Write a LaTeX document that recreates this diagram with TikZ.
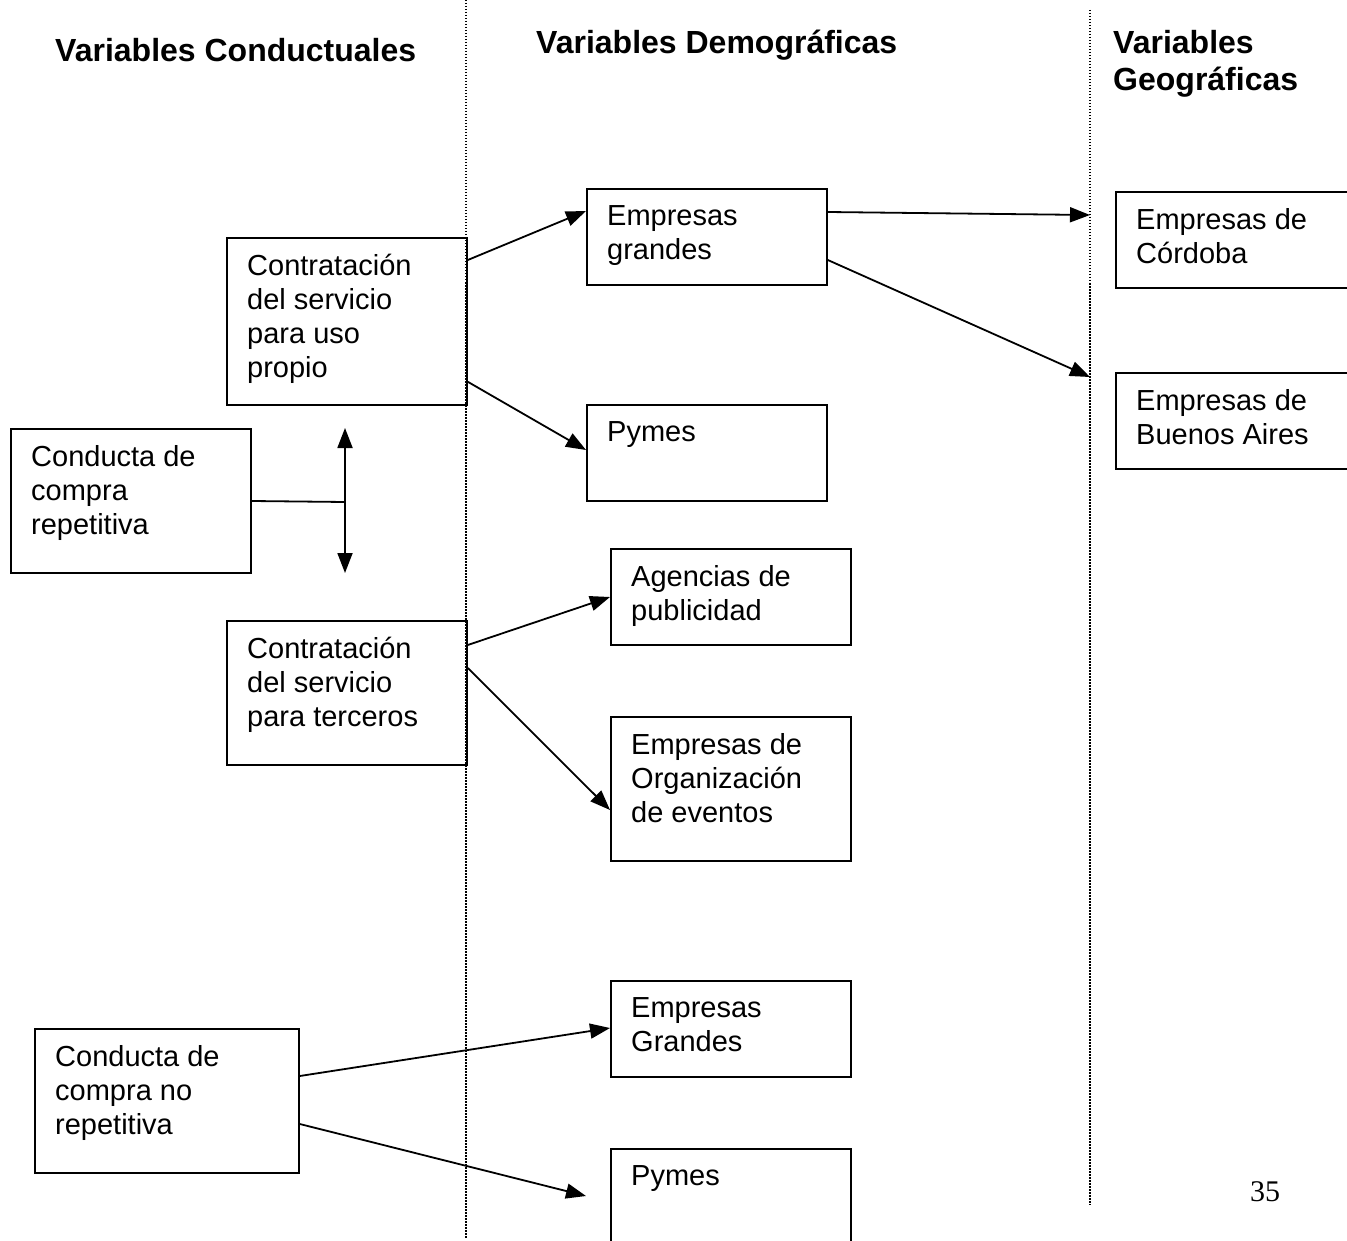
\documentclass[tikz,border=0pt]{standalone}
\usepackage{fontspec}
\setmainfont{Liberation Sans}
\newfontfamily\numfont{Liberation Serif}
\usetikzlibrary{arrows.meta}
\begin{document}
\begin{tikzpicture}[x=1pt,y=-1pt,
  box/.style={draw, line width=1.8pt, rectangle, anchor=north west, inner sep=0pt},
  txt/.style={anchor=north west, inner sep=0pt, align=left, font=\fontsize{29}{34}\selectfont},
  hdr/.style={anchor=north west, inner sep=0pt, align=left, font=\fontsize{32}{37}\selectfont\bfseries},
  arr/.style={line width=1.8pt, -{Triangle[length=20pt,width=15pt]}},
  darr/.style={line width=1.8pt, {Triangle[length=20pt,width=15pt]}-{Triangle[length=20pt,width=15pt]}},
  plain/.style={line width=1.8pt},
  sep/.style={line width=1.5pt, dash pattern=on 1.5pt off 1.5pt}]
\useasboundingbox[fill=white] (0,0) rectangle (1347,1241);

% separators
\coordinate (s1a) at (466,0);
\coordinate (s1b) at (466,1238);
\coordinate (s2a) at (1090,10);
\coordinate (s2b) at (1090,1205);
\draw[sep] (s1a) -- (s1b);
\draw[sep] (s2a) -- (s2b);

% headers
\node[hdr] (h1) at (55,38) {Variables Conductuales};
\node[hdr] (h2) at (536,30) {Variables Demográficas};
\node[hdr] (h3) at (1113,30) {Variables\\Geográficas};

% boxes
\node[box, minimum width=240pt, minimum height=167pt] (cup) at (226,237) {};
\node[box, minimum width=240pt, minimum height=144pt] (crr) at (10,428) {};
\node[box, minimum width=240pt, minimum height=144pt] (cter) at (226,620) {};
\node[box, minimum width=240pt, minimum height=96pt] (eg) at (586,188) {};
\node[box, minimum width=240pt, minimum height=96pt] (py1) at (586,404) {};
\node[box, minimum width=240pt, minimum height=96pt] (ag) at (610,548) {};
\node[box, minimum width=240pt, minimum height=144pt] (eo) at (610,716) {};
\node[box, minimum width=240pt, minimum height=96pt] (eg2) at (610,980) {};
\node[box, minimum width=240pt, minimum height=144pt] (py2) at (610,1148) {};
\node[box, minimum width=264pt, minimum height=144pt] (cnr) at (34,1028) {};
\node[box, minimum width=260pt, minimum height=96pt] (cor) at (1115,191) {};
\node[box, minimum width=260pt, minimum height=96pt] (ba) at (1115,372) {};

% texts
\node[txt] (tcup) at (247,254) {Contratación\\del servicio\\para uso\\propio};
\node[txt] (tcrr) at (31,445) {Conducta de\\compra\\repetitiva};
\node[txt] (tcter) at (247,637) {Contratación\\del servicio\\para terceros};
\node[txt] (teg) at (607,205) {Empresas\\grandes};
\node[txt] (tpy1) at (607,421) {Pymes};
\node[txt] (tag) at (631,565) {Agencias de\\publicidad};
\node[txt] (teo) at (631,733) {Empresas de\\Organización\\de eventos};
\node[txt] (teg2) at (631,997) {Empresas\\Grandes};
\node[txt] (tpy2) at (631,1165) {Pymes};
\node[txt] (tcnr) at (55,1045) {Conducta de\\compra no\\repetitiva};
\node[txt] (tcor) at (1136,208) {Empresas de\\Córdoba};
\node[txt] (tba) at (1136,389) {Empresas de\\Buenos Aires};

% page number
\node[anchor=base west, inner sep=0pt, font=\numfont\fontsize{30}{34}\selectfont] (pg) at (1250,1201) {35};

% double arrow
\coordinate (dtop) at (345,428);
\coordinate (dbot) at (345,573);
\coordinate (dmid) at (345,502);
\draw[darr] (dtop) -- (dbot);
\draw[plain] ([yshift=-73pt]crr.north east) -- (dmid);

% connectors
\draw[arr] ([yshift=-23pt]cup.north east) -- ([yshift=-23pt]eg.north west);
\draw[arr] ([yshift=24pt]cup.south east) -- ([yshift=-46pt]py1.north west);
\draw[arr] ([yshift=-24pt]eg.north east) -- ([xshift=-25pt,yshift=-24pt]cor.north west);
\draw[arr] ([yshift=-72pt]eg.north east) -- ([xshift=-25pt,yshift=-5pt]ba.north west);
\draw[arr] ([yshift=-25pt]cter.north east) -- ([yshift=-49pt]ag.north west);
\draw[arr] ([yshift=-48pt]cter.north east) -- ([yshift=-94pt]eo.north west);
\draw[arr] ([yshift=-48pt]cnr.north east) -- ([yshift=-48pt]eg2.north west);
\draw[arr] ([yshift=-96pt]cnr.north east) -- ([xshift=-24pt,yshift=-48pt]py2.north west);
\end{tikzpicture}
\end{document}
